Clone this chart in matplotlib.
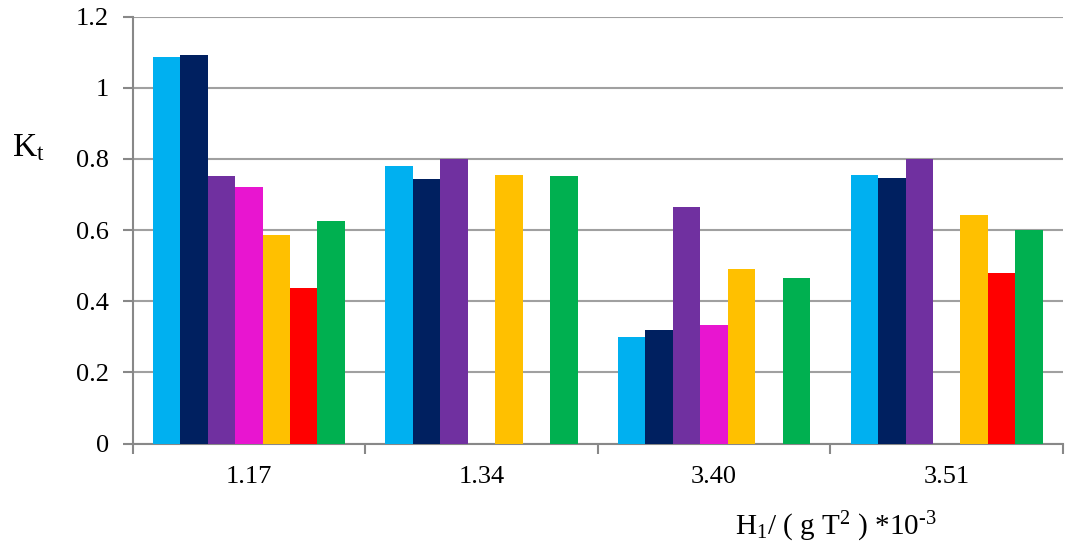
import numpy as np
import matplotlib
matplotlib.use("Agg")
import matplotlib.pyplot as plt
from matplotlib.ticker import FixedLocator

plt.rcParams['font.family'] = ['Liberation Serif', 'DejaVu Serif']
plt.rcParams['mathtext.fontset'] = 'custom'
plt.rcParams['mathtext.rm'] = 'Liberation Serif'
plt.rcParams['mathtext.it'] = 'Liberation Serif:italic'

categories = ['1.17', '1.34', '3.40', '3.51']
s1 = [1.088, 0.781, 0.300, 0.756]
s2 = [1.093, 0.745, 0.320, 0.747]
s3 = [0.751, 0.801, 0.664, 0.800]
s4 = [0.720, np.nan, 0.334, np.nan]
s5 = [0.587, 0.756, 0.491, 0.642]
s6 = [0.438, np.nan, np.nan, 0.480]
s7 = [0.626, 0.753, 0.464, 0.600]
series = [s1, s2, s3, s4, s5, s6, s7]
colors = ['#00B0F0', '#002060', '#7030A0', '#E815D0', '#FFC000', '#FF0000', '#00B050']
ytick_vals = [0, 0.2, 0.4, 0.6, 0.8, 1.0, 1.2]
ytick_labels = ['0', '0.2', '0.4', '0.6', '0.8', '1', '1.2']

fig = plt.figure(figsize=(10.66, 5.47), dpi=100)
ax = fig.add_axes([132.5/1066, 1-443.5/547, 930.5/1066, (443.5-16.7)/547])

n = len(series)
bw = 0.118
x = np.arange(len(categories))
for i, (vals, c) in enumerate(zip(series, colors)):
    ax.bar(x + (i - (n-1)/2)*bw, vals, width=bw, color=c, edgecolor='none', zorder=3)

ax.set_xlim(-0.5, len(categories)-0.5)
ax.set_ylim(0, 1.2)
ax.set_yticks(ytick_vals)
ax.set_yticklabels(ytick_labels)
ax.grid(axis='y', color='#a0a0a0', linewidth=1.5, zorder=0)

ax.set_xticks(x)
ax.set_xticklabels(categories)
ax.xaxis.set_minor_locator(FixedLocator(np.arange(-0.5, len(categories), 1.0)))
ax.tick_params(axis='x', which='major', length=0, pad=16, labelsize=19)
ax.tick_params(axis='x', which='minor', length=7, width=1.5, color='#888888')
ax.tick_params(axis='y', length=7, width=1.5, color='#888888', pad=10, labelsize=19)

for side in ['top', 'right']:
    ax.spines[side].set_visible(False)
for side in ['left', 'bottom']:
    ax.spines[side].set_color('#888888')
    ax.spines[side].set_linewidth(1.5)

fig.text(12/1066, 1-148/547, r'K$_\mathrm{t}$', fontsize=24, va='center', ha='left')
fig.text(836/1066, 1-527/547, r'H$_\mathrm{1}$/ ( g T$^\mathrm{2}$ ) *10$^{\text{-3}}$',
         fontsize=21, ha='center', va='center')

fig.savefig('out.png', dpi=100)
